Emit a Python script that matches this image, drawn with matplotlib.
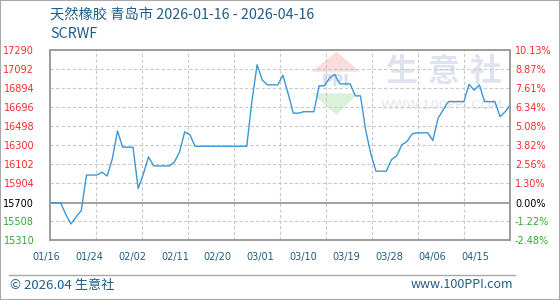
import numpy as np
import matplotlib
matplotlib.use('Agg')
import matplotlib.pyplot as plt
from matplotlib.patches import Polygon, Rectangle
from matplotlib.lines import Line2D

# daily price, 01/16 .. 04/15
price = [15700, 15700, 15700, 15580, 15480, 15555, 15620, 15990, 15990, 15990,
         16020, 15980, 16160, 16450, 16280, 16280, 16280, 15850, 16000, 16180,
         16085, 16085, 16085, 16085, 16125, 16230, 16440, 16410, 16290, 16290,
         16290, 16290, 16290, 16290, 16290, 16290, 16290, 16290, 16290, 16760,
         17140, 16980, 16930, 16930, 16930, 17030, 16840, 16635, 16635, 16650,
         16650, 16650, 16920, 16920, 17000, 17040, 16940, 16940, 16940, 16815,
         16815, 16460, 16210, 16030, 16030, 16030, 16150, 16190, 16305, 16340,
         16420, 16430, 16430, 16430, 16350, 16580, 16670, 16755, 16755, 16755,
         16755, 16935, 16875, 16930, 16755, 16755, 16755, 16600, 16650, 16725]
base = 15700
xlabels = ['01/16', '01/24', '02/02', '02/11', '02/20', '03/01',
           '03/10', '03/19', '03/28', '04/06', '04/15']
yticks = [15310, 15508, 15700, 15904, 16102, 16300, 16498, 16696, 16894, 17092, 17290]
pct = ['-2.48%', '-1.22%', '0.00%', '1.30%', '2.56%', '3.82%',
       '5.08%', '6.34%', '7.61%', '8.87%', '10.13%']

W, H = 560, 300
def fx(x): return x / W
def fy(y): return 1 - y / H

blue = '#1f5c87'
cjk = ['Noto Sans CJK SC', 'DejaVu Sans']

fig = plt.figure(figsize=(5.6, 3.0), dpi=100)

# watermark
wm = dict(transform=fig.transFigure, zorder=-1)
fig.add_artist(Polygon([[fx(336.7), fy(51.7)], [fx(311.7), fy(71.7)], [fx(360), fy(71.7)]],
                       closed=True, fc='#f9dcdb', ec='none', **wm))
fig.add_artist(Polygon([[fx(311.7), fy(93.3)], [fx(358.3), fy(93.3)], [fx(336.7), fy(115)]],
                       closed=True, fc='#dcf1dc', ec='none', **wm))
fig.text(fx(336), fy(82), 'PPI', fontsize=11, fontweight='bold', color='#d8deee',
         ha='center', va='center', **wm)
for cx, ch in zip([401, 444, 486], '生意社'):
    fig.text(fx(cx), fy(72), ch, fontsize=23, fontweight='bold', color='#dfe3ef',
             ha='center', va='center', family=cjk, **wm)
fig.text(fx(442), fy(106), 'WWW.100PPI.COM', fontsize=9.5, color='#e4e4ec',
         ha='center', va='center', **wm)

ax = fig.add_axes([fx(50.3), fy(240.3), (510.4 - 50.3) / W, (240.3 - 50.3) / H])
ax.set_facecolor('none')
x = np.arange(len(price))
ax.plot(x, price, color='#3b98d6', lw=1.0, zorder=3)
ax.set_xlim(0, len(price) - 1)
ax.set_ylim(yticks[0], yticks[-1])

grid = dict(color='#c9c9c9', lw=0.8, ls=(0, (3, 2)), zorder=1)
for v in yticks[1:-1]:
    if v != base:
        ax.axhline(v, **grid)
for v in np.linspace(0, len(price) - 1, 11)[1:-1]:
    ax.axvline(v, **grid)
ax.axhline(base, color='#9a9a9a', lw=1.3, zorder=2)

for s in ax.spines.values():
    s.set_color('#9a9a9a')
    s.set_linewidth(1.1)

cols = ['#ff2b2b' if v > base else ('#000000' if v == base else '#2fa82f') for v in yticks]
ax.set_yticks(yticks)
ax.set_yticklabels([str(v) for v in yticks], fontsize=7)
ax.tick_params(axis='y', length=0, pad=11.5)
for lab, c in zip(ax.get_yticklabels(), cols):
    lab.set_color(c)
ax.set_xticks([])

ax2 = ax.twinx()
ax2.set_ylim(yticks[0], yticks[-1])
ax2.set_yticks(yticks)
ax2.set_yticklabels(pct, fontsize=7)
ax2.tick_params(axis='y', length=0, pad=3.3)
for lab, c in zip(ax2.get_yticklabels(), cols):
    lab.set_color(c)
for s in ax2.spines.values():
    s.set_color('#9a9a9a')
    s.set_linewidth(1.1)

lpos = np.linspace((46.2 - 50.3) / 460.1, (475.3 - 50.3) / 460.1, len(xlabels))
for p, lab in zip(lpos, xlabels):
    ax.text(p, -0.086, lab, transform=ax.transAxes, ha='center', va='center',
            fontsize=7, color=blue)

fig.text(fx(50), fy(14.7), '天然橡胶 青岛市 2026-01-16 - 2026-04-16', fontsize=10.3,
         color=blue, va='center', family=cjk)
fig.text(fx(50), fy(34), 'SCRWF', fontsize=10.3, color=blue, va='center', family=cjk)

fig.add_artist(Line2D([fx(9.3), fx(515)], [fy(275), fy(275)], transform=fig.transFigure,
                      color='#a8a8a8', lw=1.0))
fig.text(fx(9.5), fy(285), '© 2026.04 生意社', fontsize=9.5, color=blue, va='center', family=cjk)
fig.text(fx(513), fy(285), 'www.100PPI.com', fontsize=9, color=blue, va='center',
         ha='right', family=cjk)
fig.add_artist(Rectangle((0, 0), 1, 1, transform=fig.transFigure, fill=False,
                         ec='#a8a8a8', lw=1.5))

fig.savefig('out.png', dpi=100)
